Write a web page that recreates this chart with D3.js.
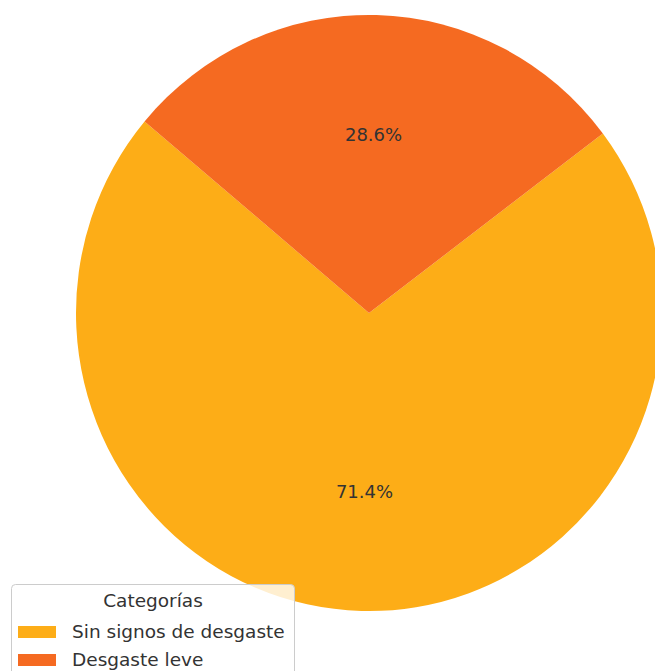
<!DOCTYPE html>
<html>
<head>
<meta charset="utf-8">
<script src="https://cdn.jsdelivr.net/npm/d3@7"></script>
<style>
  html, body { margin: 0; padding: 0; background: #fff; }
  svg { display: block; }
</style>
</head>
<body>
<svg id="chart" width="655" height="671"></svg>
<script>
const categories = ["Sin signos de desgaste", "Desgaste leve"];
const values = [71.4, 28.6];
const colors = ["#fdad17", "#f56a21"];
const legendTitle = "Categorías";

const svg = d3.select("#chart");
const cx = 369, cy = 313, rx = 293, ry = 298;
const deg = Math.PI / 180;

const pie = d3.pie().sort(null).value(d => d)
  .startAngle(-50 * deg).endAngle(-410 * deg);
const arcs = pie(values);
const arc = d3.arc().innerRadius(0).outerRadius(rx);

const g = svg.append("g")
  .attr("transform", `translate(${cx},${cy}) scale(1,${ry / rx})`);

g.selectAll("path").data(arcs).join("path")
  .attr("d", arc)
  .attr("fill", (d, i) => colors[i]);

const labelArc = d3.arc().innerRadius(rx * 0.6).outerRadius(rx * 0.6);
svg.append("g").attr("transform", `translate(${cx},${cy})`)
  .selectAll("text").data(arcs).join("text")
  .attr("x", d => labelArc.centroid(d)[0])
  .attr("y", d => labelArc.centroid(d)[1] * ry / rx)
  .attr("dy", "0.36em")
  .attr("text-anchor", "middle")
  .attr("font-family", "DejaVu Sans")
  .attr("font-size", 18)
  .attr("fill", "#333")
  .text(d => d3.format(".1f")(d.data) + "%");

// Legend
const lg = svg.append("g");
lg.append("rect")
  .attr("x", 11.5).attr("y", 584.5)
  .attr("width", 283).attr("height", 100)
  .attr("rx", 4)
  .attr("fill", "rgba(255,255,255,0.8)")
  .attr("stroke", "#cccccc");
lg.append("text")
  .attr("x", 153).attr("y", 607)
  .attr("text-anchor", "middle")
  .attr("font-family", "DejaVu Sans")
  .attr("font-size", 18.5)
  .attr("fill", "#333")
  .text(legendTitle);
categories.forEach((c, i) => {
  const y0 = 626 + i * 28;
  lg.append("rect").attr("x", 18).attr("y", y0).attr("width", 38).attr("height", 12)
    .attr("fill", colors[i]);
  lg.append("text").attr("x", 72).attr("y", y0 + 12)
    .attr("font-family", "DejaVu Sans")
    .attr("font-size", 18.5)
    .attr("fill", "#333")
    .text(c);
});
</script>
</body>
</html>
